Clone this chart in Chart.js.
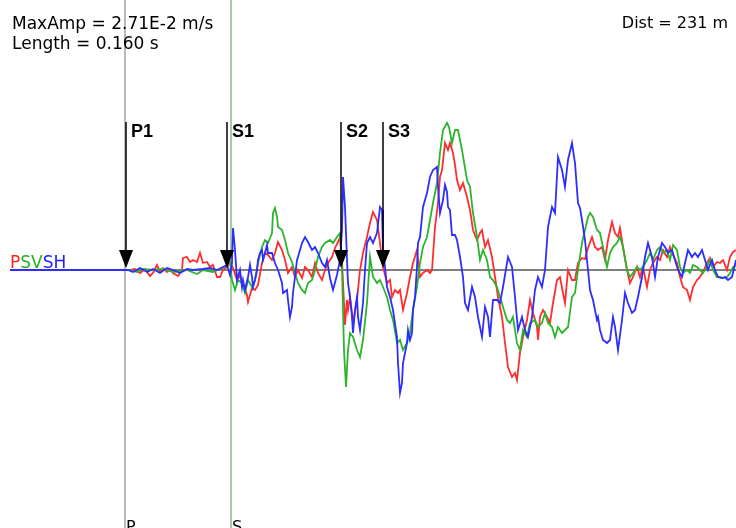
<!DOCTYPE html>
<html>
<head>
<meta charset="utf-8">
<script src="https://cdn.jsdelivr.net/npm/chart.js@4.4.1/dist/chart.umd.min.js"></script>
<style>
  html, body { margin: 0; padding: 0; background: #fff; }
  #wrap { position: relative; width: 736px; height: 528px; }
</style>
</head>
<body>
<div id="wrap"><canvas id="chart"></canvas></div>
<script>
// P component (red)
const pTime = [
  10,128,130,135,140,145,150,153,157,160,
  163,167,170,173,178,182,183,187,190,193,
  197,200,203,207,210,213,217,220,223,227,
  230,233,237,240,243,247,248,252,255,258,
  262,265,268,272,275,278,282,285,288,292,
  295,298,302,305,308,312,315,318,322,325,
  328,332,335,338,340,342,345,347,348,350,
  352,353,357,360,363,367,370,373,377,380,
  383,387,390,392,395,398,400,403,407,410,
  413,417,420,423,427,430,432,435,438,440,
  442,445,448,450,453,455,457,460,463,467,
  470,473,477,480,482,485,488,492,495,498,
  502,505,508,512,515,517,520,523,527,530,
  533,537,538,540,543,547,550,553,557,560,
  563,565,568,572,575,578,582,585,588,592,
  595,598,602,605,608,612,615,618,620,623,
  627,630,633,637,640,643,647,650,653,657,
  660,663,667,670,673,677,680,683,687,690,
  693,697,700,703,707,710,713,717,720,723,
  727,730,733,736
];
const pAmp = [
  0,0,0,1,-3,1,-6,-3,5,-2,
  2,-2,1,-3,-6,0,12,13,8,10,
  8,17,7,8,3,5,-7,-7,0,3,
  8,2,-10,-6,-14,-25,-32,-18,-20,-15,
  7,17,15,10,17,28,20,10,-3,3,
  -7,0,-8,3,0,-7,7,-3,-10,0,
  7,13,22,28,33,10,-55,-30,-40,-27,
  -43,-53,-30,0,17,33,47,58,50,27,
  3,-13,-10,-27,-20,-23,-20,-40,-23,-7,
  7,20,-7,-3,0,-3,0,43,67,93,
  100,127,120,127,117,105,90,80,87,73,
  60,40,30,37,40,23,30,13,-7,-27,
  -47,-73,-97,-107,-103,-110,-83,-67,-50,-30,
  -43,-57,-70,-47,-40,-47,-53,-33,-10,-7,
  -23,-33,0,-10,-10,7,12,11,22,33,
  23,20,23,10,30,48,37,33,42,23,
  0,-13,-7,3,-7,3,-17,0,7,13,
  10,20,13,23,15,7,-7,-17,-20,-30,
  -17,-10,-7,-2,7,12,3,8,7,10,
  0,13,18,20
];

// SV component (green)
const svTime = [
  10,128,130,137,143,153,163,173,187,197,
  203,213,220,225,228,230,232,235,238,242,
  245,248,252,255,258,262,265,268,272,273,
  275,277,278,282,285,288,292,295,298,302,
  305,308,312,315,318,322,325,330,333,337,
  340,342,344,346,348,350,353,357,360,363,
  367,370,373,377,380,383,387,390,393,397,
  400,403,407,410,413,417,420,423,427,430,
  433,437,440,443,447,449,452,455,458,462,
  467,470,473,477,480,483,487,490,493,497,
  500,503,507,510,513,517,520,523,527,530,
  535,538,542,545,548,552,555,558,562,565,
  568,572,575,578,582,585,588,590,593,597,
  600,603,607,610,613,617,620,623,627,630,
  633,637,640,643,647,650,653,657,660,663,
  667,670,673,677,680,683,687,690,693,697,
  700,703,707,710,713,717,720,723,727,730,
  733,736
];
const svAmp = [
  0,0,0,-2,1,0,1,-2,0,-4,
  0,-2,1,3,7,8,-10,-20,-10,-13,
  -23,-10,-17,-10,7,23,30,27,37,57,
  62,53,43,40,30,17,8,-3,-13,-20,
  -23,-13,-10,0,13,23,27,30,27,33,
  37,0,-80,-117,-80,-63,-67,-80,-87,-70,
  -33,13,-7,-13,-10,-17,-27,-40,-50,-73,
  -70,-80,-73,-63,-40,-17,7,23,33,50,
  67,87,117,140,147,143,127,140,140,120,
  90,83,57,33,10,20,10,-7,-10,-17,
  -27,-37,-50,-53,-47,-73,-80,-60,-67,-53,
  -50,-57,-53,-43,-53,-57,-67,-57,-63,-60,
  -57,-27,-23,0,27,40,53,57,53,40,
  37,23,3,17,23,27,33,23,0,-7,
  -3,3,0,3,10,17,10,20,23,17,
  20,10,25,20,3,-3,0,-3,5,3,
  0,-3,3,10,0,-7,-7,-8,-7,-3,
  3,5
];

// SH component (blue)
const shTime = [
  10,128,133,140,147,153,160,167,173,180,
  187,193,203,210,217,223,227,230,232,233,
  235,237,240,242,243,245,248,250,252,253,
  255,257,258,260,262,263,265,267,268,272,
  275,278,282,283,287,288,290,292,293,295,
  297,298,302,305,308,312,315,318,322,325,
  327,330,333,337,340,342,343,345,347,348,
  350,352,353,355,357,358,360,363,365,367,
  370,373,377,380,382,383,385,387,390,393,
  397,398,400,402,403,407,408,410,412,413,
  415,417,418,420,423,427,430,433,437,438,
  440,443,445,447,448,450,452,455,457,460,
  463,465,468,472,475,478,482,485,488,490,
  493,497,500,503,508,512,515,518,522,525,
  528,532,535,538,542,545,548,552,555,558,
  562,565,568,572,575,578,580,582,585,588,
  590,593,597,598,600,603,607,610,613,615,
  618,622,625,628,632,635,638,642,645,648,
  652,655,658,662,665,668,672,675,678,682,
  685,688,692,695,698,702,705,708,712,715,
  718,722,725,728,732,736
];
const shAmp = [
  0,0,-2,2,-2,1,-3,2,0,-3,
  1,0,1,2,0,3,5,-5,7,42,
  20,-10,0,-17,-10,-20,-7,5,-7,-17,
  -10,0,10,17,20,10,17,25,17,17,
  7,0,-13,-23,-20,-30,-47,-37,-23,-7,
  10,13,27,33,28,20,23,17,7,3,
  10,-8,-20,-5,10,40,93,63,10,-13,
  -27,-47,-63,-40,-27,-47,-60,-33,0,27,
  33,27,37,63,60,20,3,-17,-27,-40,
  -67,-93,-123,-113,-93,-73,-60,-70,-63,-40,
  -27,3,27,33,63,77,93,100,103,83,
  57,70,85,78,63,60,35,35,30,13,
  -7,-33,-40,-17,-27,-47,-67,-37,-47,-67,
  -30,-30,-33,-17,13,3,-27,-60,-47,-60,
  -67,-47,-20,-7,-17,0,43,63,57,113,
  100,83,110,127,107,67,62,50,30,0,
  -20,-30,-50,-47,-60,-70,-73,-70,-47,-57,
  -80,-50,-23,-33,-43,-40,-27,-7,13,27,
  13,-7,13,27,23,17,20,10,0,-7,
  7,20,13,17,13,20,10,0,10,0,
  -7,-8,-7,-10,-7,10
];

const pickNames = ["P1", "S1", "S2", "S3"];
const pickTimes = [126, 227, 341, 383];
const phaseNames = ["P", "S"];
const phaseTimes = [125, 231];

const toXY = (t, a) => t.map((v, i) => ({ x: v, y: a[i] }));

const overlay = {
  id: "overlay",
  beforeDatasetsDraw(chart) {
    const ctx = chart.ctx;
    const xs = chart.scales.x, ys = chart.scales.y;
    const y0 = ys.getPixelForValue(0);
    ctx.save();
    // zero line
    ctx.strokeStyle = "#555";
    ctx.lineWidth = 1.5;
    ctx.beginPath();
    ctx.moveTo(xs.getPixelForValue(10), y0);
    ctx.lineTo(xs.getPixelForValue(736), y0);
    ctx.stroke();
    // phase markers
    const cols = ["#a0a0a0", "#7cc07c"];
    phaseTimes.forEach((t, i) => {
      const x = xs.getPixelForValue(t);
      ctx.strokeStyle = cols[i];
      ctx.lineWidth = 1.5;
      ctx.beginPath();
      ctx.moveTo(x, 0);
      ctx.lineTo(x, chart.height);
      ctx.stroke();
      ctx.fillStyle = "#000";
      ctx.font = '16px "DejaVu Sans"';
      ctx.textBaseline = "alphabetic";
      ctx.fillText(phaseNames[i], x + 1, 532);
    });
    ctx.restore();
  },
  afterDatasetsDraw(chart) {
    const ctx = chart.ctx;
    const xs = chart.scales.x, ys = chart.scales.y;
    const y0 = ys.getPixelForValue(0);
    ctx.save();
    // picks
    pickTimes.forEach((t, i) => {
      const x = xs.getPixelForValue(t);
      ctx.strokeStyle = "#000";
      ctx.lineWidth = 1.5;
      ctx.beginPath();
      ctx.moveTo(x, 122);
      ctx.lineTo(x, y0 - 18);
      ctx.stroke();
      ctx.fillStyle = "#000";
      ctx.beginPath();
      ctx.moveTo(x - 7, y0 - 20);
      ctx.lineTo(x + 7, y0 - 20);
      ctx.lineTo(x, y0 - 2);
      ctx.closePath();
      ctx.fill();
      ctx.font = 'bold 18px "Liberation Sans"';
      ctx.textBaseline = "alphabetic";
      ctx.fillText(pickNames[i], x + 5, 137);
    });
    // header text
    ctx.fillStyle = "#000";
    ctx.font = '17px "DejaVu Sans"';
    ctx.textAlign = "left";
    ctx.fillText("MaxAmp = 2.71E-2 m/s", 12, 29);
    ctx.fillText("Length = 0.160 s", 12, 49);
    ctx.font = '16px "DejaVu Sans"';
    ctx.textAlign = "right";
    ctx.fillText("Dist = 231 m", 728, 28);
    // component legend
    ctx.textAlign = "left";
    ctx.font = '17px "DejaVu Sans"';
    let lx = 10;
    [["P", "#ff2020"], ["SV", "#20b020"], ["SH", "#2020ff"]].forEach(([s, c]) => {
      ctx.fillStyle = c;
      ctx.fillText(s, lx, 268);
      lx += ctx.measureText(s).width;
    });
    ctx.restore();
  }
};

new Chart(document.getElementById("chart"), {
  type: "line",
  data: {
    datasets: [
      { label: "P", data: toXY(pTime, pAmp), borderColor: "rgb(255,45,45)", order: 3 },
      { label: "SV", data: toXY(svTime, svAmp), borderColor: "rgb(45,180,45)", order: 2 },
      { label: "SH", data: toXY(shTime, shAmp), borderColor: "rgb(45,45,255)", order: 1 },
    ],
  },
  options: {
    responsive: true,
    maintainAspectRatio: false,
    animation: false,
    layout: { padding: 0 },
    elements: {
      line: { borderWidth: 1.8, tension: 0 },
      point: { radius: 0 },
    },
    scales: {
      x: { type: "linear", display: false, min: 0, max: 736 },
      y: { display: false, min: -258, max: 270 },
    },
    plugins: {
      legend: { display: false },
      tooltip: { enabled: false },
    },
  },
  plugins: [overlay],
});
</script>
</body>
</html>
